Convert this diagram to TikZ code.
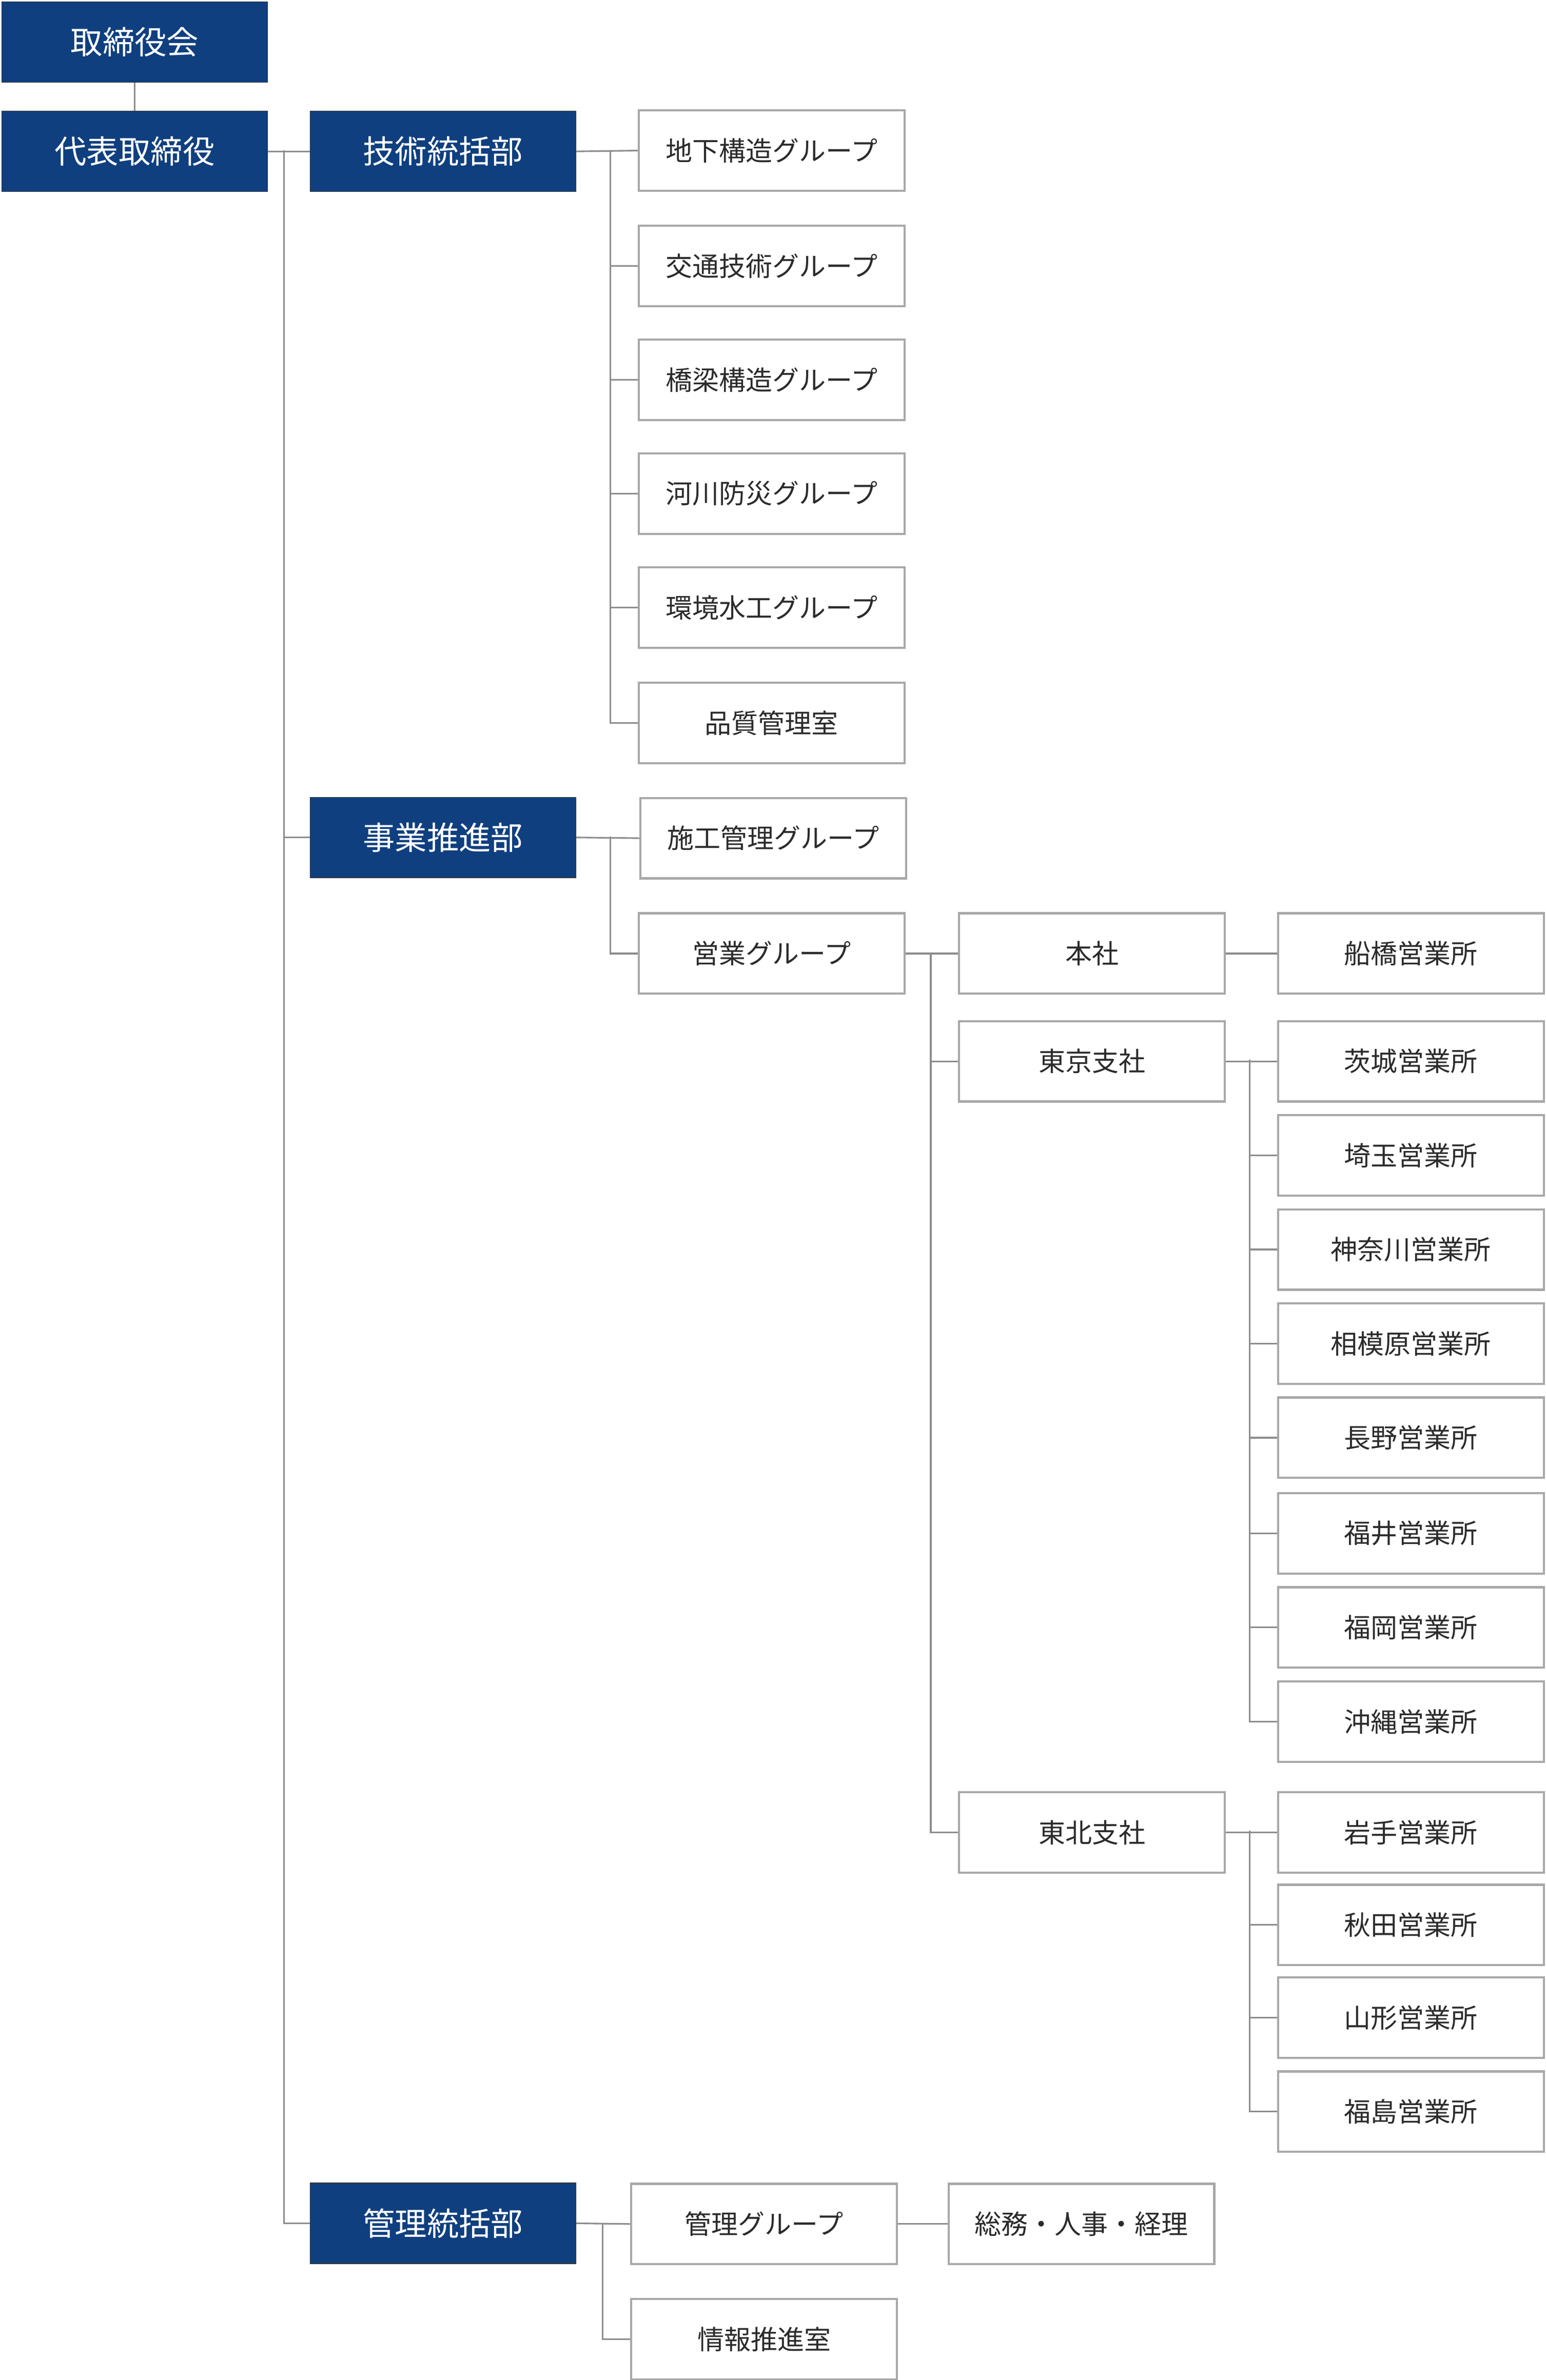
\documentclass[tikz,border=0pt]{standalone}
\usepackage{fontspec}
\setmainfont{Noto Sans CJK JP}
\usepackage{xcolor}
\usetikzlibrary{positioning}
\definecolor{headblue}{HTML}{0F3F7F}
\definecolor{boxgray}{HTML}{A8A8A8}
\definecolor{linegray}{HTML}{8C8C8C}
\definecolor{textgray}{HTML}{2B2B2B}

\begin{document}
\begin{tikzpicture}[x=0.03cm,y=-0.03cm,
  head/.style={draw=black!80,fill=headblue,text=white,anchor=north west,
    minimum width=5.25cm,minimum height=1.59cm,inner sep=0pt,font=\fontsize{18}{18}\selectfont},
  unit/.style={draw=boxgray,line width=1.2pt,fill=white,text=textgray,anchor=north west,
    minimum width=5.25cm,minimum height=1.59cm,inner sep=0pt,font=\fontsize{15}{15}\selectfont},
  link/.style={draw=linegray,line width=0.9pt}]
  \useasboundingbox (0,0) rectangle (1018,1568);

  % top
  \node[head] (board) at (1,1) {取締役会};
  \node[head] (ceo) at (1,73) {代表取締役};
  \node[head] (tech) at (204,73) {技術統括部};
  \node[head] (biz) at (204,525) {事業推進部};
  \node[head] (admin) at (204,1438) {管理統括部};

  \draw[link] (board) -- (ceo);
  \coordinate (busA) at (187,99);
  \draw[link] (ceo.east) -- (tech.west);
  \draw[link] (busA) |- (biz.west);
  \draw[link] (busA) |- (admin.west);

  % 技術統括部
  \node[unit] (g1) at (420,72) {地下構造グループ};
  \node[unit] (g2) at (420,148) {交通技術グループ};
  \node[unit] (g3) at (420,223) {橋梁構造グループ};
  \node[unit] (g4) at (420,298) {河川防災グループ};
  \node[unit] (g5) at (420,373) {環境水工グループ};
  \node[unit] (g6) at (420,449) {品質管理室};

  \coordinate (busB) at (402,99);
  \draw[link] (tech.east) -- (g1.west);
  \foreach \n in {g2,g3,g4,g5,g6}
    \draw[link] (busB) |- (\n.west);

  % 事業推進部
  \node[unit] (b1) at (421,525) {施工管理グループ};
  \node[unit] (sales) at (420,601) {営業グループ};
  \coordinate (busC) at (402,551);
  \draw[link] (biz.east) -- (b1.west);
  \draw[link] (busC) |- (sales.west);

  % 営業グループ
  \node[unit] (hq) at (631,601) {本社};
  \node[unit] (tokyo) at (631,672) {東京支社};
  \node[unit] (tohoku) at (631,1180) {東北支社};
  \coordinate (busD) at (613,628);
  \draw[link] (sales.east) -- (hq.west);
  \draw[link] (busD) |- (tokyo.west);
  \draw[link] (busD) |- (tohoku.west);

  \node[unit] (funa) at (841,601) {船橋営業所};
  \draw[link] (hq.east) -- (funa.west);

  % 東京支社
  \node[unit] (t1) at (841,672) {茨城営業所};
  \node[unit] (t2) at (841,734) {埼玉営業所};
  \node[unit] (t3) at (841,796) {神奈川営業所};
  \node[unit] (t4) at (841,858) {相模原営業所};
  \node[unit] (t5) at (841,920) {長野営業所};
  \node[unit] (t6) at (841,983) {福井営業所};
  \node[unit] (t7) at (841,1045) {福岡営業所};
  \node[unit] (t8) at (841,1107) {沖縄営業所};
  \coordinate (busE) at (823,698);
  \draw[link] (tokyo.east) -- (t1.west);
  \foreach \n in {t2,t3,t4,t5,t6,t7,t8}
    \draw[link] (busE) |- (\n.west);

  % 東北支社
  \node[unit] (n1) at (841,1180) {岩手営業所};
  \node[unit] (n2) at (841,1241) {秋田営業所};
  \node[unit] (n3) at (841,1302) {山形営業所};
  \node[unit] (n4) at (841,1364) {福島営業所};
  \coordinate (busF) at (823,1206);
  \draw[link] (tohoku.east) -- (n1.west);
  \foreach \n in {n2,n3,n4}
    \draw[link] (busF) |- (\n.west);

  % 管理統括部
  \node[unit] (a1) at (415,1438) {管理グループ};
  \node[unit] (a2) at (415,1514) {情報推進室};
  \node[unit] (a3) at (624,1438) {総務・人事・経理};
  \coordinate (busG) at (397,1465);
  \draw[link] (admin.east) -- (a1.west);
  \draw[link] (busG) |- (a2.west);
  \draw[link] (a1.east) -- (a3.west);

\end{tikzpicture}
\end{document}
